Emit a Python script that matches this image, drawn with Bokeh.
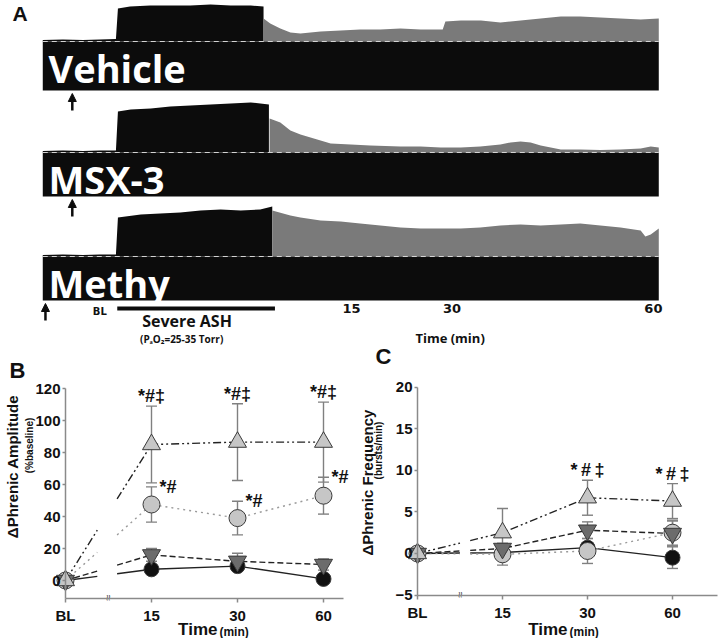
import math
from bokeh.plotting import figure
from bokeh.layouts import column, row
from bokeh.models import (ColumnDataSource, Arrow, NormalHead, Whisker,
                          TeeHead, FixedTicker, Range1d, LinearAxis)
from bokeh.core.properties import value
from bokeh.embed import file_html
from bokeh.resources import INLINE

# ---------------- Panel A : integrated phrenic traces ----------------
trace_names = ["Vehicle", "MSX-3", "Methy"]
drug_time = [-26.6, -26.6, -30.6]          # min, arrows (drug given)
ash_start, ash_end = -19.9, 3.6            # min, severe ASH episode bar
a_tick_times = [15, 30, 60]
a_tick_labels = ["15", "30", "60"]
bl_time = -22.5

veh_base_t = [-31.0, -28.0, -25.0, -22.5, -20.1]
veh_base_a = [1.5, 2.0, 1.5, 2.0, 2.5]
veh_ash_t = [-19.8, -18.0, -15.0, -12.0, -9.0, -6.0, -3.0, 0.0, 1.9]
veh_ash_a = [33, 35, 36, 36, 36, 37, 36, 36, 35]
veh_rec_t = [1.9, 2.9, 4.4, 5.9, 7.4, 8.9, 10.4, 13.4, 16.3, 19.3, 22.3, 25.3, 28.6,
             29.0, 31.3, 34.3, 37.2, 40.2, 43.2, 46.2, 49.1, 52.1, 55.1, 58.1, 60.8]
veh_rec_a = [23, 18, 13, 9, 8, 9, 10, 11, 12, 12, 13, 12, 12,
             20, 21, 21, 19, 21, 23, 25, 25, 24, 23, 22, 23]

msx_base_t = [-31.0, -28.0, -25.0, -22.5, -20.1]
msx_base_a = [1.5, 2.0, 1.5, 2.0, 2.0]
msx_ash_t = [-19.8, -17.9, -14.9, -12.0, -9.0, -6.0, -3.0, 0.0, 2.7]
msx_ash_a = [41, 43, 44, 46, 47, 48, 49, 50, 48]
msx_rec_t = [2.8, 4.4, 5.9, 7.4, 8.9, 10.4, 11.9, 14.9, 17.8, 22.3, 25.3, 28.3, 31.3,
             34.2, 37.2, 38.7, 40.2, 41.7, 43.2, 46.2, 49.1, 52.1, 55.1, 58.1, 59.6, 60.8]
msx_rec_a = [34, 30, 22, 18, 15, 12, 9, 8, 7, 6, 6, 5, 5,
             6, 8, 10, 11, 10, 7, 3, 3, 2.5, 3, 4, 6, 5]

met_base_t = [-31.0, -28.0, -25.0, -22.5, -20.1]
met_base_a = [1.5, 2.0, 1.5, 2.0, 2.0]
met_ash_t = [-19.8, -16.4, -13.5, -10.5, -7.5, -4.5, -1.5, 1.4, 3.2]
met_ash_a = [39, 42, 43, 44, 46, 47, 46, 47, 50]
met_rec_t = [3.2, 5.9, 7.4, 10.4, 13.4, 16.3, 19.3, 22.3, 25.3, 28.3, 31.3, 34.2,
             37.2, 40.2, 43.2, 46.2, 49.1, 52.1, 55.1, 58.1, 58.8, 59.6, 60.8]
met_rec_a = [46, 41, 39, 36, 35, 33, 31, 29, 28, 28, 28, 29,
             31, 32, 31, 32, 33, 31, 29, 26, 20, 22, 28]

# ---------------- Panels B and C : group means ----------------
time_labels = ["BL", "15", "30", "60"]

amp_vehicle = [0, 7, 9, 1]
amp_vehicle_sem = [0, 2, 3, 1]
amp_msx = [0, 16, 12, 10]
amp_msx_sem = [0, 4, 5, 3.5]
amp_ctrl = [0, 47.5, 39, 53]
amp_ctrl_sem = [0, 11, 10.5, 11.5]
amp_methy = [0, 85, 86.5, 86.5]
amp_methy_sem = [0, 24, 24, 25]

frq_vehicle = [0, 0.1, 0.7, -0.5]
frq_vehicle_sem = [0, 0.5, 0.5, 1.3]
frq_msx = [0, 0.6, 2.8, 2.4]
frq_msx_sem = [0, 0.6, 1.0, 1.5]
frq_ctrl = [0, -0.1, 0.3, 2.5]
frq_ctrl_sem = [0, 1.3, 1.5, 1.5]
frq_methy = [0, 2.5, 6.7, 6.3]
frq_methy_sem = [0, 2.9, 2.1, 2.1]

amp_sig_full = ["*#‡", "*#‡", "*#‡"]     # methy, 15/30/60
amp_sig_ctrl = ["*#", "*#", "*#"]        # light circles, 15/30/60
frq_sig_full = ["*\u2009#\u2009‡", "*\u2009#\u2009‡"]   # methy, 30/60

BLACK = "#0c0c0c"
GREY = "#7a7a7a"
FONT = "Liberation Sans"
TXT = "#111111"

# ---------------- build panel A ----------------
pa = figure(width=718, height=345, x_range=Range1d(-37.30, 69.70),
            y_range=Range1d(-345, 0), output_backend="svg", toolbar_location=None,
            x_axis_location=None, y_axis_location=None, min_border=0)
pa.grid.visible = False
pa.outline_line_color = None

traces = [(veh_base_t, veh_base_a, veh_ash_t, veh_ash_a, veh_rec_t, veh_rec_a),
          (msx_base_t, msx_base_a, msx_ash_t, msx_ash_a, msx_rec_t, msx_rec_a),
          (met_base_t, met_base_a, met_ash_t, met_ash_a, met_rec_t, met_rec_a)]
base_y = [-41, -152, -256]
box_depth = [49, 44, 44]

for i, (bt, ba, at, aa, rt, ra) in enumerate(traces):
    y0 = base_y[i]
    tt = bt + at
    aa2 = ba + aa
    pa.varea(x=tt, y1=[y0] * len(tt), y2=[y0 + a for a in aa2], fill_color=BLACK)
    pa.varea(x=rt, y1=[y0] * len(rt), y2=[y0 + a for a in ra], fill_color=GREY)
    pa.quad(left=[bt[0]], right=[rt[-1]], top=[y0], bottom=[y0 - box_depth[i]],
            fill_color=BLACK, line_color=None)
    pa.segment(x0=[bt[0]], x1=[rt[-1]], y0=[y0], y1=[y0], line_color="#d4d4d4",
               line_dash="5 4", line_width=1.2)
    pa.text(x=[bt[0] + 0.85], y=[y0 - 26.5], text=[trace_names[i]], text_color="white",
            text_font=value("Open Sans"), text_font_style="bold",
            text_font_size="38px", text_baseline="middle")
    bot = y0 - box_depth[i]
    pa.add_layout(Arrow(x_start=drug_time[i], y_start=bot - 20, x_end=drug_time[i],
                        y_end=bot - 3, line_width=2.5, line_color=BLACK,
                        end=NormalHead(size=8, fill_color=BLACK, line_color=BLACK)))

pa.segment(x0=[ash_start], x1=[ash_end], y0=[-308], y1=[-308], line_width=4,
           line_color=BLACK)
pa.text(x=[bl_time], y=[-311], text=["BL"], text_font=value("DejaVu Sans"),
        text_font_style="bold", text_font_size="10px", text_align="center",
        text_baseline="middle", text_color=TXT)
pa.text(x=a_tick_times, y=[-308] * 3, text=a_tick_labels, text_font=value("DejaVu Sans"),
        text_font_style="bold", text_font_size="13px", text_align="center",
        text_baseline="middle", text_color=TXT)
pa.text(x=[(ash_start + ash_end) / 2], y=[-320], x_offset=-7, text=["Severe  ASH"],
        text_font=value("Open Sans"), text_font_style="bold", text_font_size="16px",
        text_align="center", text_baseline="middle", text_color=TXT)
pa.text(x=[-10.3], y=[-338], text=["(PₐO₂=25-35 Torr)"], text_font=value("Open Sans"),
        text_font_style="bold", text_font_size="10px", text_align="center",
        text_baseline="middle", text_color=TXT)
pa.text(x=[29.7], y=[-337], text=["Time (min)"], text_font=value("Open Sans"),
        text_font_style="bold", text_font_size="13px", text_align="center",
        text_baseline="middle", text_color=TXT)
pa.text(x=[-35.5], y=[-12.5], text=["A"], text_font=value(FONT), text_font_style="bold",
        text_font_size="21px", text_baseline="middle", text_color=TXT)

# ---------------- helpers for B and C ----------------
x_pos = [0, 1, 2, 3]


def gapped(ys, g0, g1):
    ya = ys[0] + (ys[1] - ys[0]) * g0
    yb = ys[0] + (ys[1] - ys[0]) * g1
    return [[x_pos[0], g0], [g1] + x_pos[1:]], [[ys[0], ya], [yb] + list(ys[1:])]


def make_panel(width, xr, yr, x_end, yticks, y_bottom):
    p = figure(width=width, height=293, x_range=Range1d(*xr), y_range=Range1d(*yr),
               output_backend="svg", toolbar_location=None,
               x_axis_location=None, y_axis_location=None, min_border=0)
    p.grid.visible = False
    p.outline_line_color = None
    xa = LinearAxis(ticker=FixedTicker(ticks=x_pos),
                    major_label_overrides={i: t for i, t in zip(x_pos, time_labels)},
                    bounds=(0, x_end), fixed_location=y_bottom)
    ya = LinearAxis(ticker=FixedTicker(ticks=yticks), fixed_location=0,
                    bounds=(y_bottom, yticks[-1]))
    for ax in (xa, ya):
        ax.axis_line_color = "#8a8a8a"
        ax.axis_line_width = 1.5
        ax.major_tick_line_color = "#8a8a8a"
        ax.major_tick_line_width = 1.5
        ax.major_tick_in = 0
        ax.minor_tick_line_color = None
        ax.major_label_text_font = FONT
        ax.major_label_text_font_style = "bold"
        ax.major_label_text_font_size = "15px"
        ax.major_label_text_color = TXT
    xa.major_tick_out = 4
    xa.major_label_standoff = 5
    ya.major_tick_out = 3
    ya.major_label_standoff = 2
    p.add_layout(xa, "below")
    p.add_layout(ya, "left")
    return p


def series_set(p, data, gap):
    for means, sems, marker, size, fill, dash in data:
        lo = [m - s for m, s in zip(means[1:], sems[1:])]
        hi = [m + s for m, s in zip(means[1:], sems[1:])]
        src = ColumnDataSource(dict(x=x_pos[1:], lo=lo, hi=hi))
        p.add_layout(Whisker(source=src, base="x", lower="lo", upper="hi",
                             line_color="#808080", line_width=1.4, level="underlay",
                             upper_head=TeeHead(size=11, line_color="#808080", line_width=1.4),
                             lower_head=TeeHead(size=11, line_color="#808080", line_width=1.4)))
    for means, sems, marker, size, fill, dash in data:
        xs, ys = gapped(means, gap[0], gap[1])
        col = "#9a9a9a" if dash == "dotted" else "#222222"
        p.multi_line(xs=xs, ys=ys, line_color=col, line_width=1.4, line_dash=dash)
    for means, sems, marker, size, fill, dash in data:
        p.scatter(x=x_pos, y=means, marker=marker, size=size, fill_color=fill,
                  line_color="#3a3a3a", line_width=1)


def label(p, x, y, text, size, align="center", angle=0.0):
    p.text(x=[x], y=[y], text=[text], angle=angle, text_font=value(FONT),
           text_font_style="bold", text_font_size=size, text_align=align,
           text_baseline="middle", text_color=TXT)


LIGHT = "#c6c6c6"
DARK = "#6c6c6c"

# ---------------- panel B ----------------
pb = make_panel(358, (-0.7558, 3.407), (-36.25, 146.875), 3.23,
                [0, 20, 40, 60, 80, 100, 120], -11)
series_set(pb, [
    (amp_vehicle, amp_vehicle_sem, "circle", 15, "#111111", "solid"),
    (amp_ctrl, amp_ctrl_sem, "circle", 17, LIGHT, "dotted"),
    (amp_msx, amp_msx_sem, "inverted_triangle", 18, DARK, "6 3"),
    (amp_methy, amp_methy_sem, "triangle", 18, LIGHT, "8 3 2 3 2 3"),
], (0.37, 0.6))
top_b = [m + s for m, s in zip(amp_methy[1:], amp_methy_sem[1:])]
pb.text(x=x_pos[1:], y=top_b, text=amp_sig_full, y_offset=-10, text_font=value(FONT),
        text_font_style="bold", text_font_size="18px", text_align="center",
        text_baseline="middle", text_color=TXT)
top_c = [m + s for m, s in zip(amp_ctrl[1:], amp_ctrl_sem[1:])]
pb.text(x=x_pos[1:], y=top_c, text=amp_sig_ctrl, x_offset=8, text_font=value(FONT),
        text_font_style="bold", text_font_size="18px", text_align="left",
        text_baseline="middle", text_color=TXT)
pb.text(x=[0.5], y=[-11], text=["≈"], angle=math.pi / 2, text_align="center",
        text_baseline="middle", text_font_size="11px", text_color="#444")
label(pb, -0.558, 131.25, "B", "22px")
label(pb, -0.616, 71.25, "ΔPhrenic Amplitude", "15px", angle=math.pi / 2)
label(pb, -0.419, 84.4, "(%baseline)", "10px", angle=math.pi / 2)
label(pb, 1.767, -30.6, "Time", "17px", align="right")
label(pb, 1.79, -31.9, "(min)", "12px", align="left")

# ---------------- panel C ----------------
pc = make_panel(360, (-0.694, 3.541), (-10.22, 25.0), 3.53,
                [-5, 0, 5, 10, 15, 20], -5)
series_set(pc, [
    (frq_vehicle, frq_vehicle_sem, "circle", 15, "#111111", "solid"),
    (frq_ctrl, frq_ctrl_sem, "circle", 17, LIGHT, "dotted"),
    (frq_msx, frq_msx_sem, "inverted_triangle", 18, DARK, "6 3"),
    (frq_methy, frq_methy_sem, "triangle", 18, LIGHT, "8 3 2 3 2 3"),
], (0.5, 0.62))
top_f = [m + s for m, s in zip(frq_methy[2:], frq_methy_sem[2:])]
pc.text(x=x_pos[2:], y=top_f, text=frq_sig_full, y_offset=-10, text_font=value(FONT),
        text_font_style="bold", text_font_size="18px", text_align="center",
        text_baseline="middle", text_color=TXT)
pc.text(x=[0.5], y=[-5], text=["≈"], angle=math.pi / 2, text_align="center",
        text_baseline="middle", text_font_size="11px", text_color="#444")
label(pc, -0.4, 23.68, "C", "22px")
label(pc, -0.588, 8.53, "ΔPhrenic Frequency", "15px", angle=math.pi / 2)
label(pc, -0.459, 12.38, "(bursts/min)", "10px", angle=math.pi / 2)
label(pc, 1.765, -9.13, "Time", "17px", align="right")
label(pc, 1.788, -9.38, "(min)", "12px", align="left")

layout = column(pa, row(pb, pc))
open("out.html", "w").write(file_html(layout, INLINE))
